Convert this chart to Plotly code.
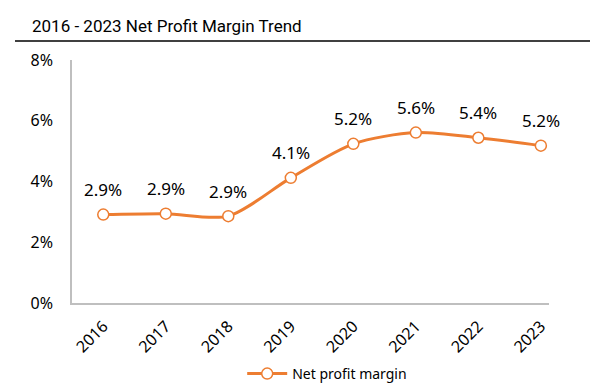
import plotly.graph_objects as go

years = ["2016", "2017", "2018", "2019", "2020", "2021", "2022", "2023"]
margin_pct = [2.91, 2.94, 2.86, 4.12, 5.24, 5.61, 5.44, 5.18]
labels = [f"{v:.1f}%" for v in margin_pct]
y_ticks = [0, 2, 4, 6, 8]
y_ticklabels = ["0%", "2%", "4%", "6%", "8%"]

ORANGE = "#ED7D31"
FONT = "Noto Sans"

fig = go.Figure()
fig.add_trace(go.Scatter(
    x=list(range(len(years))), y=margin_pct,
    mode="lines+markers",
    name="Net profit margin",
    line=dict(color=ORANGE, width=3, shape="spline", smoothing=0.8),
    marker=dict(size=11, color="white", line=dict(color=ORANGE, width=1.5)),
    cliponaxis=False,
))

for i, (v, t) in enumerate(zip(margin_pct, labels)):
    fig.add_annotation(x=i, y=v, text=t, showarrow=False, yshift=25, yanchor="middle",
                       font=dict(family=FONT, size=17, color="black"))

fig.update_layout(
    width=606, height=386,
    margin=dict(l=72, r=57, t=60, b=83, autoexpand=False),
    paper_bgcolor="white", plot_bgcolor="white",
    showlegend=True,
    title=dict(text="2016 - 2023 Net Profit Margin Trend", xref="container", x=32/606,
               xanchor="left", yref="container", y=1-26/386, yanchor="middle",
               font=dict(family="Roboto", size=17, color="black", weight=400),
               automargin=False),
    legend=dict(orientation="h", x=0.535, xanchor="center", y=-0.292, yanchor="middle",
                font=dict(family=FONT, size=14, color="black"), itemwidth=40),
    xaxis=dict(range=[-0.5, 7.13], tickmode="array", tickvals=list(range(len(years))),
               ticktext=years, tickangle=-45, showgrid=False, zeroline=False,
               showline=True, linecolor="#BFBFBF", linewidth=1.5, ticks="",
               automargin=False, ticklabelstandoff=6,
               tickfont=dict(family=FONT, size=16, color="black")),
    yaxis=dict(range=[0, 8], tickmode="array", tickvals=y_ticks, ticktext=y_ticklabels,
               showgrid=False, zeroline=False, showline=True, linecolor="#BFBFBF",
               linewidth=1.5, ticks="", ticklabelstandoff=14, automargin=False,
               tickfont=dict(family=FONT, size=16, color="black")),
    shapes=[dict(type="line", xref="paper", yref="paper", x0=(15-72)/477, x1=(590-72)/477,
                 y0=(303-41)/243, y1=(303-41)/243, line=dict(color="#404040", width=2))],
)
fig.write_html("out.html", config={"displayModeBar": False},
               post_script="document.body.style.margin='0';document.body.style.overflow='hidden';")
